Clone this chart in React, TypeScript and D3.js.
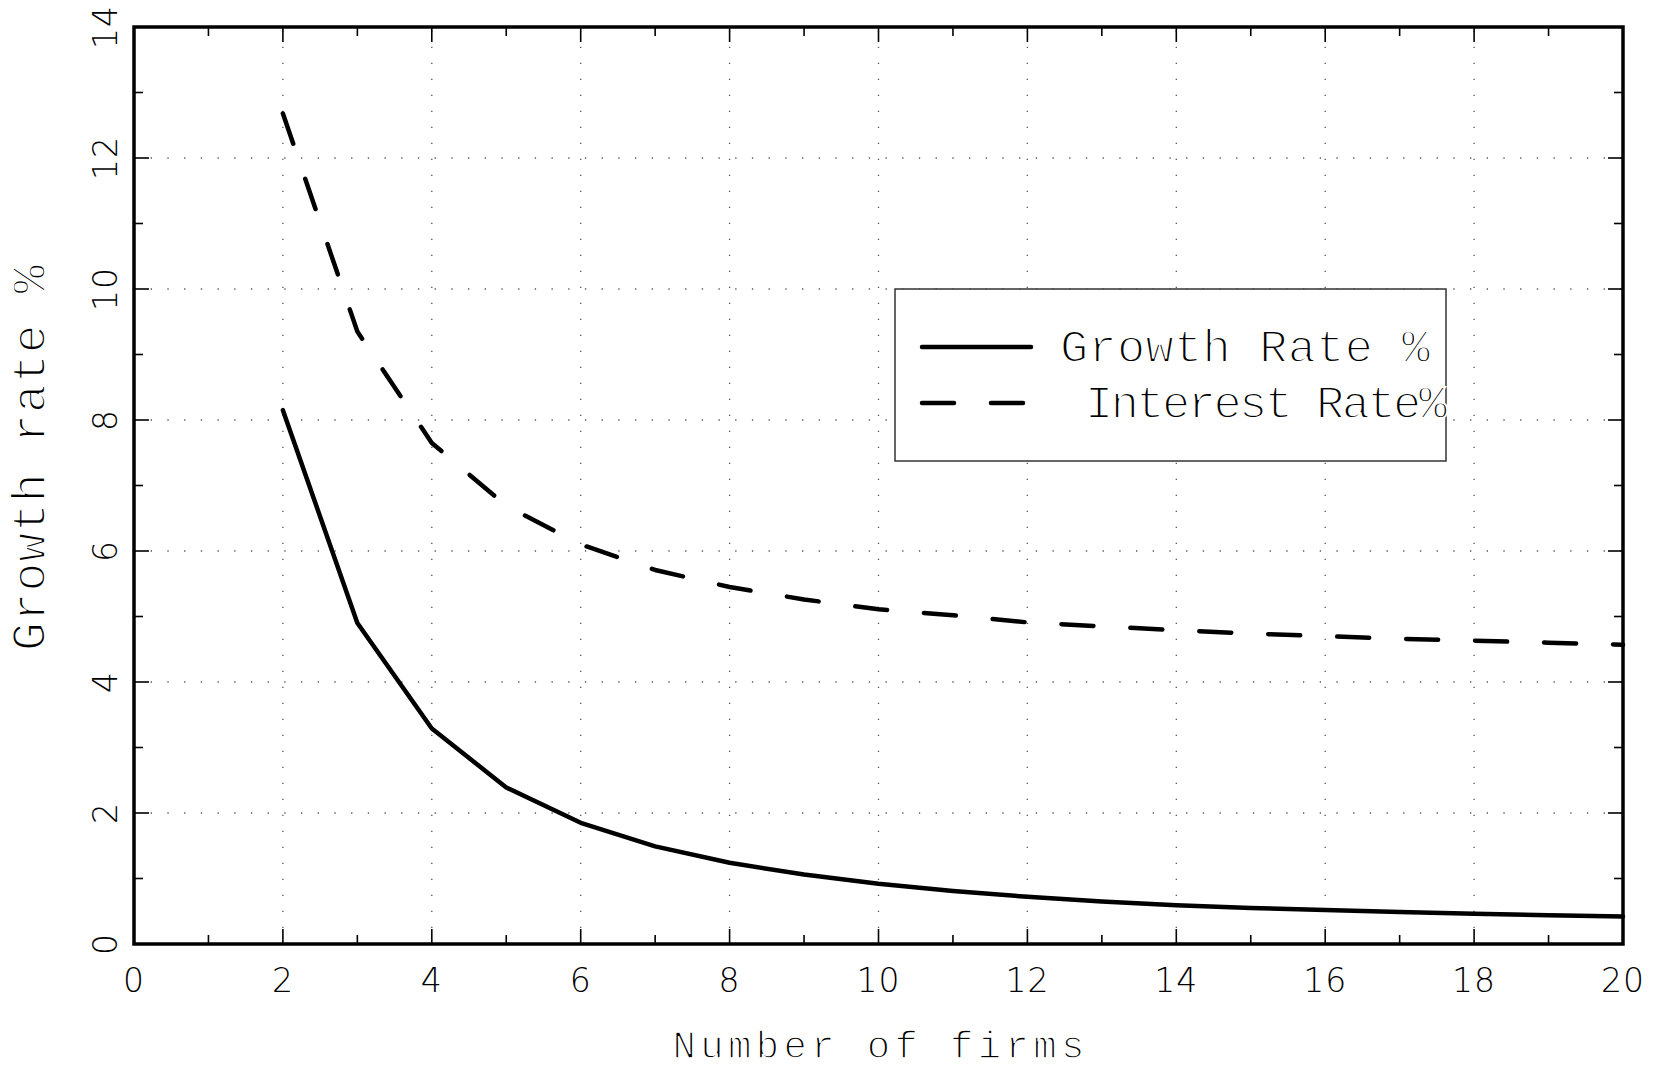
import React from "react";
import * as d3 from "d3";

// data
const firms = [2, 3, 4, 5, 6, 7, 8, 9, 10, 11, 12, 13, 14, 15, 16, 17, 18, 19, 20];
const growthRate = [8.15, 4.9, 3.29, 2.39, 1.85, 1.49, 1.24, 1.06, 0.92, 0.81, 0.72, 0.65, 0.59, 0.55, 0.52, 0.49, 0.46, 0.44, 0.42];
const interestRate = [12.68, 9.35, 7.65, 6.69, 6.1, 5.71, 5.45, 5.26, 5.11, 5.02, 4.91, 4.85, 4.79, 4.74, 4.7, 4.66, 4.63, 4.6, 4.57];

const xMajor = [0, 2, 4, 6, 8, 10, 12, 14, 16, 18, 20];
const xMinor = [1, 3, 5, 7, 9, 11, 13, 15, 17, 19];
const yMajor = [0, 2, 4, 6, 8, 10, 12, 14];
const yMinor = [1, 3, 5, 7, 9, 11, 13];

const seriesNames = ["Growth Rate %", "Interest Rate%"];
const xTitle = "Number of firms";
const yTitle = "Growth rate %";

const W = 1658;
const H = 1069;
const margin = { top: 27, right: 35, bottom: 125, left: 134 };

const tickFont = "'DejaVu Sans', sans-serif";
const titleFont = "'Liberation Mono', 'DejaVu Sans Mono', monospace";

// thin stroke-font look: white outline eats into the glyphs
const thin = { stroke: "#fff", strokeWidth: 1.8 };

export default function App() {
  const x = d3.scaleLinear().domain([0, 20]).range([margin.left, W - margin.right]);
  const y = d3.scaleLinear().domain([0, 14]).range([H - margin.bottom, margin.top]);

  const line = d3
    .line<number>()
    .x((_, i) => x(firms[i]))
    .y((d) => y(d));

  const x0 = x(0);
  const x1 = x(20);
  const y0 = y(0);
  const y1 = y(14);

  const majorLen = 15;
  const minorLen = 9;

  return (
    <svg
      width={W}
      height={H}
      viewBox={`0 0 ${W} ${H}`}
      style={{ position: "absolute", left: 0, top: 0, background: "#fff" }}
    >
      <rect width={W} height={H} fill="#fff" />

      {/* dotted grid */}
      <g stroke="#555" strokeWidth={1.3} fill="none">
        {xMajor.slice(1, -1).map((t) => (
          <line key={"gx" + t} x1={x(t)} x2={x(t)} y1={y0} y2={y1} strokeDasharray="1.3 14.7" />
        ))}
        {yMajor.slice(1, -1).map((t) => (
          <line key={"gy" + t} x1={x0} x2={x1} y1={y(t)} y2={y(t)} strokeDasharray="1.3 15.4" />
        ))}
      </g>

      {/* ticks on all four sides, pointing inward */}
      <g stroke="#000" strokeWidth={1.6}>
        {xMajor.map((t) => (
          <g key={"xt" + t}>
            <line x1={x(t)} x2={x(t)} y1={y0} y2={y0 - majorLen} />
            <line x1={x(t)} x2={x(t)} y1={y1} y2={y1 + majorLen} />
          </g>
        ))}
        {xMinor.map((t) => (
          <g key={"xm" + t}>
            <line x1={x(t)} x2={x(t)} y1={y0} y2={y0 - minorLen} />
            <line x1={x(t)} x2={x(t)} y1={y1} y2={y1 + minorLen} />
          </g>
        ))}
        {yMajor.map((t) => (
          <g key={"yt" + t}>
            <line x1={x0} x2={x0 + majorLen} y1={y(t)} y2={y(t)} />
            <line x1={x1} x2={x1 - majorLen} y1={y(t)} y2={y(t)} />
          </g>
        ))}
        {yMinor.map((t) => (
          <g key={"ym" + t}>
            <line x1={x0} x2={x0 + minorLen} y1={y(t)} y2={y(t)} />
            <line x1={x1} x2={x1 - minorLen} y1={y(t)} y2={y(t)} />
          </g>
        ))}
      </g>

      {/* series */}
      <path
        d={line(growthRate) || ""}
        fill="none"
        stroke="#000"
        strokeWidth={4.5}
        strokeLinejoin="round"
        strokeLinecap="round"
      />
      <path
        d={line(interestRate) || ""}
        fill="none"
        stroke="#000"
        strokeWidth={4.5}
        strokeLinejoin="round"
        strokeLinecap="round"
        strokeDasharray="32 37"
      />

      {/* frame */}
      <rect x={x0} y={y1} width={x1 - x0} height={y0 - y1} fill="none" stroke="#000" strokeWidth={3.5} />

      {/* tick labels */}
      <g fontFamily={tickFont} fontWeight={200} fontSize={33} fill="#000">
        {xMajor.map((t) => (
          <text key={"xl" + t} x={x(t)} y={992} textAnchor="middle" letterSpacing={1}>
            {t}
          </text>
        ))}
        {yMajor.map((t) => (
          <text
            key={"yl" + t}
            transform={`translate(117,${y(t)}) rotate(-90)`}
            textAnchor="middle"
            letterSpacing={1}
          >
            {t}
          </text>
        ))}
      </g>

      {/* axis titles */}
      <text
        x={(x0 + x1) / 2}
        y={1058}
        textAnchor="middle"
        fontFamily={titleFont}
        fontSize={39}
        textLength={412}
        lengthAdjust="spacing"
        {...thin}
        strokeWidth={1.5}
      >
        {xTitle}
      </text>
      <text
        transform={`translate(45,458) rotate(-90)`}
        textAnchor="middle"
        fontFamily={titleFont}
        fontSize={48}
        textLength={386}
        lengthAdjust="spacing"
        {...thin}
      >
        {yTitle}
      </text>

      {/* legend */}
      <g>
        <rect x={895} y={y(10)} width={551} height={172} fill="#fff" stroke="#333" strokeWidth={1.5} />
        <line x1={922} x2={1031} y1={347} y2={347} stroke="#000" strokeWidth={4.5} strokeLinecap="round" />
        <line
          x1={922}
          x2={1031}
          y1={403}
          y2={403}
          stroke="#000"
          strokeWidth={4.5}
          strokeLinecap="round"
          strokeDasharray="32 37"
        />
        <text x={1060} y={362} fontFamily={titleFont} fontSize={47} textLength={370} lengthAdjust="spacing" {...thin}>
          {seriesNames[0]}
        </text>
        <text x={1085} y={418} fontFamily={titleFont} fontSize={47} textLength={362} lengthAdjust="spacing" {...thin}>
          {seriesNames[1]}
        </text>
      </g>
    </svg>
  );
}
